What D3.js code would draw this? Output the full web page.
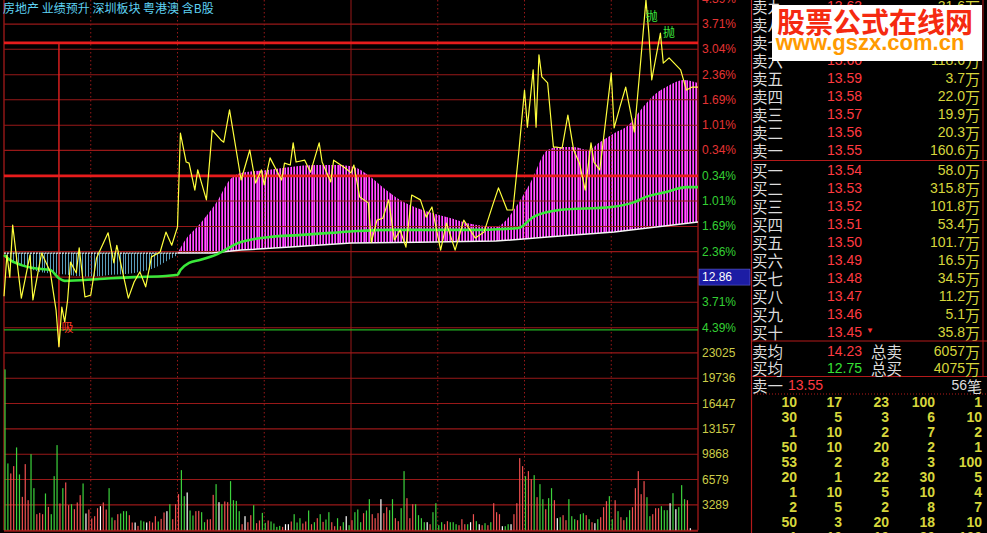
<!DOCTYPE html>
<html><head><meta charset="utf-8">
<script src="https://cdn.jsdelivr.net/npm/d3@7/dist/d3.min.js"></script>
<style>html,body{margin:0;padding:0;background:#000;overflow:hidden}svg{display:block}</style>
</head><body>
<svg id="chart" width="987" height="533"></svg>
<script>
// ================= DATA =================
const titleTags = ["房地产","业绩预升","深圳板块","粤港澳","含B股"];
const pctUpTicks = ["4.39%","3.71%","3.04%","2.36%","1.69%","1.01%","0.34%"];
const pctDownTicks = ["0.34%","1.01%","1.69%","2.36%","3.04%","3.71%","4.39%"];
const volTicks = [23025,19736,16447,13157,9868,6579,3289];
const cursorPrice = "12.86";
const cursorPct = -3.04;
const timeGridMin = [30,60,90,120,150,180,210];
const levelPct = [3.21,-0.34];
const greenLevelPct = -4.45;
const markMin = 19, markFrom = 3.21, markTo = -4.90;

// price (yellow) - minute index and % change
const priceMin = [0,1,2,3,6,9,10,13,16,18,19,20,21,22,23,25,26,28,30,32,36,38,39,43,45,47,49,51,54,56,58,60,61,63,64,66,67,70,72,75,76,78,82,85,87,89,90,92,96,97,99,100,101,104,106,109,110,113,114,118,120,121,123,126,127,129,131,133,135,137,139,141,144,146,148,151,153,156,159,163,166,167,169,171,174,176,178,180,181,183,184,185,186,188,190,191,193,195,197,199,201,203,204,206,207,210,211,213,215,218,220,222,223,224,227,228,230,234,236,238,240];
const pricePct = [-3.55,-2.45,-3.04,-1.65,-3.60,-2.45,-3.65,-2.40,-2.90,-3.92,-4.90,-3.84,-4.24,-3.65,-2.64,-2.93,-2.26,-3.57,-3.52,-2.53,-1.86,-2.66,-2.19,-3.60,-3.17,-2.90,-3.30,-2.50,-2.37,-1.84,-2.19,-1.70,0.80,0.03,0.00,-0.72,-0.18,-0.98,0.88,0.62,0.56,1.42,-0.45,0.35,-0.53,-0.18,-0.58,0.14,-0.45,0.00,-0.05,0.54,0.03,0.08,-0.24,0.54,0.03,-0.50,0.08,-0.13,-0.26,-0.05,-0.90,-1.06,-2.11,-1.52,-1.47,-0.98,-2.05,-1.79,-2.24,-0.85,-0.98,-1.44,-1.17,-2.32,-1.60,-2.32,-1.52,-2.00,-1.84,-1.60,-1.12,-0.66,-1.25,-1.25,0.27,1.95,0.96,2.49,0.96,2.89,2.30,2.14,0.43,0.43,0.40,1.28,0.35,0.00,-0.72,0.54,0.03,-0.18,0.43,2.40,0.94,1.50,2.03,0.83,2.56,4.35,3.47,2.22,3.47,2.67,2.81,2.49,1.95,2.03,2.03];

// average price (green)
const avgMin = [0,2,6,10,16,19,21,33,45,56,60,61,64,68,74,81,92,102,113,122,133,148,165,172,178,183,192,210,218,222,229,236,240];
const avgPct = [-2.45,-2.58,-2.72,-2.80,-2.85,-3.07,-3.14,-3.09,-3.04,-3.01,-2.98,-2.85,-2.66,-2.58,-2.42,-2.13,-1.97,-1.92,-1.86,-1.81,-1.78,-1.78,-1.78,-1.76,-1.73,-1.44,-1.25,-1.17,-1.04,-0.90,-0.77,-0.64,-0.64];

// indicator baseline (white)
const baseMin = [0,60,72,82,99,120,143,170,188,211,240];
const basePct = [-2.40,-2.40,-2.40,-2.32,-2.24,-2.13,-2.11,-2.08,-1.97,-1.84,-1.57];
// indicator lower band (cyan) below baseline in the morning
const cyanMin = [0,1,6,12,22,29,37,45,52,57,60];
const cyanPct = [-2.40,-2.50,-2.72,-2.90,-2.98,-3.04,-2.98,-2.93,-2.80,-2.58,-2.45];
// indicator upper band (magenta)
const magMin = [60,62,68,74,78,82,91,99,108,115,121,126,131,137,143,148,154,160,166,170,173,177,182,188,192,197,202,206,211,216,221,224,229,235,240];
const magPct = [-2.40,-2.13,-1.60,-0.98,-0.45,-0.26,-0.18,-0.10,-0.05,-0.05,-0.10,-0.32,-0.64,-0.98,-1.20,-1.33,-1.46,-1.60,-1.68,-1.71,-1.57,-1.17,-0.53,0.35,0.43,0.43,0.35,0.56,0.80,1.02,1.50,1.76,2.03,2.22,2.14];

// signals
const sigText = ["吸","抛","抛"];
const sigMin = [22,224,230];
const sigPct = [-4.37,3.95,3.50];
const sigColor = ["#ff3a2a","#3ee83e","#3ee83e"];

// volume per minute
const volVals = [20890,8670,7370,8320,10750,7240,4330,8580,3900,9880,
5460,2080,2250,2080,4770,3030,2080,7020,11050,3470,
5460,6200,3250,3380,2730,3600,4550,6070,2170,2690,
1520,1820,2860,3120,3600,2690,5460,1650,1300,2080,
2170,2470,2470,1950,1000,1000,560,1260,1130,1000,
1170,1000,1820,1130,1470,2300,2470,3380,1430,3380,
4680,7800,4420,4900,2560,1910,2470,2510,2340,1040,
1390,1430,4590,5980,3640,3380,3730,3640,6370,3900,
3810,2470,780,1820,1040,1950,3250,910,1260,2250,
950,1260,1130,870,430,560,430,780,780,1130,
2080,1000,1560,870,1130,2560,780,1040,1560,2080,
1080,1390,2340,1040,520,1560,520,1040,1820,
650,1300,2340,2690,1040,2210,2560,4030,2080,1560,
2210,4030,2210,2990,2600,4030,1560,1170,2860,7670,
4160,1560,3380,3380,1950,1560,1040,1040,780,2340,
3510,650,1040,780,1170,1040,1040,780,650,1430,
780,780,1040,2080,1170,780,650,910,650,1040,
3510,2340,2080,520,520,780,780,2080,3510,9360,
8320,7020,7670,6630,7150,4290,5980,4030,2730,4160,
5460,3900,1560,1690,1950,1300,4030,1820,1430,1300,
2080,2210,1950,1430,1040,910,1430,1690,2990,3770,
4420,1430,3900,2470,1690,1300,1690,2600,2990,5460,
7670,4680,6370,4290,1820,2080,2860,2860,3120,2600,
2600,3510,4810,2730,2990,5850,4030,3900,260];
const volDir = ("ggrrggrrrg"+"grrrgrgggr"+"grrgrrrgwr"+"rrrwrrggrr"+"gggrrwrggw"+"rrrgrrwgrr"+"rggwggrrgg"+"rrrgwgrrgg"+"ggrwrrgrrg"+"grggggrwwr"+"gggrrgrgrg"+"rggrrgrgw"+
 "grgggrggrr"+"rwrrggrrgg"+"rrrggggwrg"+"gggrrgggrr"+"rgwrgwrgrg"+"rrrwggwrrr"+"rgrrgrggrg"+"grwgrrgggr"+"ggrgrwgrrr"+"ggrgrrggrr"+"rrrggrrrgg"+"gwgwgggrw").split("");

// order book
const sellNames = ["卖九","卖八","卖七","卖六","卖五","卖四","卖三","卖二","卖一"];
const sellPrices = ["13.63","13.62","13.61","13.60","13.59","13.58","13.57","13.56","13.55"];
const sellVols = ["31.6","42.3","25.0","118.6","3.7","22.0","19.9","20.3","160.6"];
const buyNames = ["买一","买二","买三","买四","买五","买六","买七","买八","买九","买十"];
const buyPrices = ["13.54","13.53","13.52","13.51","13.50","13.49","13.48","13.47","13.46","13.45"];
const buyVols = ["58.0","315.8","101.8","53.4","101.7","16.5","34.5","11.2","5.1","35.8"];
const avgRows = [["卖均","14.23","总卖","6057"],["买均","12.75","总买","4075"]];
const tickRow = ["卖一","13.55","56笔"];
const tradeRows = [[10,17,23,100,1],[30,5,3,6,10],[1,10,2,7,2],[50,10,20,2,1],[53,2,8,3,100],[20,1,22,30,5],[1,10,5,10,4],[2,5,2,8,7],[50,3,20,18,10],[1,10,10,20,100]];
const watermark = ["股票公式在线网","www.gszx.com.cn"];

// ================= DRAW =================
const W = 987, H = 533;
const svg = d3.select("#chart");
svg.append("rect").attr("width", W).attr("height", H).attr("fill", "#000");

const x = d3.scaleLinear().domain([0, 240]).range([4, 698]);
const y = d3.scaleLinear().domain([4.3875, -4.3875]).range([-1.3, 327.6]);
const yv = d3.scaleLinear().domain([0, 23025]).range([530.2, 352.9]);

const GRID = "#981818", BRIGHT = "#e81c1c";
const numFont = "'Liberation Sans', Arial, sans-serif";
const cjkFont = "'Noto Sans CJK SC', sans-serif";

const WM = { x: 772, y: 5, w: 210, h: 56 };
const cursorBox = { y0: y(cursorPct) - 8, y1: y(cursorPct) + 8 };

const zip = (a, b) => a.map((m, i) => [m, b[i]]);
const basePts = zip(baseMin, basePct);
const lineLin = d3.line().x(d => x(d[0])).y(d => y(d[1]));
const lineSm = d3.line().x(d => x(d[0])).y(d => y(d[1])).curve(d3.curveMonotoneX);
const minutes = d3.range(0, 241);

const defs = svg.append("defs");
// cyan band clip
const cyanPts = zip(cyanMin, cyanPct);
const baseMorning = basePts.filter(d => d[0] <= 60);
defs.append("clipPath").attr("id", "cyanClip").append("path")
  .attr("d", lineLin(baseMorning) + lineSm(cyanPts.slice().reverse()).replace(/^M/, "L") + "Z");
// magenta band clip
const magPts = zip(magMin, magPct);
const baseAfter = basePts.filter(d => d[0] >= 60).reverse();
defs.append("clipPath").attr("id", "magClip").append("path")
  .attr("d", lineSm(magPts) + lineLin(baseAfter).replace(/^M/, "L") + "Z");

// cyan stripes (one per minute)
svg.append("g").attr("clip-path", "url(#cyanClip)").attr("shape-rendering", "crispEdges")
  .selectAll("rect").data(minutes.filter(m => m <= 61)).join("rect")
  .attr("x", m => Math.round(x(m))).attr("width", 1).attr("y", 240).attr("height", 50)
  .attr("fill", "#5a9cba");
// magenta stripes (one purple + one pink line per minute)
const magG = svg.append("g").attr("clip-path", "url(#magClip)").attr("shape-rendering", "crispEdges");
magG.selectAll("rect.a").data(minutes.filter(m => m >= 59)).join("rect").attr("class", "a")
  .attr("x", m => Math.round(x(m))).attr("width", 1).attr("y", 60).attr("height", 200)
  .attr("fill", "#c40cc8");
magG.selectAll("rect.b").data(minutes.filter(m => m >= 59)).join("rect").attr("class", "b")
  .attr("x", m => Math.round(x(m)) + 1).attr("width", 1).attr("y", 60).attr("height", 200)
  .attr("fill", "#f46cf0");

// horizontal grid (price)
const pctTickVals = pctUpTicks.map(t => parseFloat(t)).concat(pctDownTicks.map(t => -parseFloat(t)));
svg.append("g").selectAll("line").data(pctTickVals).join("line")
  .attr("x1", x(0)).attr("x2", x(240)).attr("y1", d => y(d)).attr("y2", d => y(d))
  .attr("stroke", GRID).attr("stroke-width", 1.1);
// horizontal grid (volume)
svg.append("g").selectAll("line").data(volTicks).join("line")
  .attr("x1", x(0)).attr("x2", x(240)).attr("y1", d => yv(d)).attr("y2", d => yv(d))
  .attr("stroke", GRID).attr("stroke-width", 1.1);
svg.append("line").attr("x1", x(0)).attr("x2", x(240)).attr("y1", yv(0) + 0.5).attr("y2", yv(0) + 0.5)
  .attr("stroke", GRID).attr("stroke-width", 2);

// vertical grid
svg.append("g").selectAll("line").data(timeGridMin).join("line")
  .attr("x1", d => x(d)).attr("x2", d => x(d)).attr("y1", 0).attr("y2", yv(0))
  .attr("stroke", GRID).attr("stroke-width", 1)
  .attr("stroke-dasharray", d => d === 120 ? null : "1.5,2.5");
svg.append("line").attr("x1", x(0)).attr("x2", x(0)).attr("y1", 0).attr("y2", yv(0)).attr("stroke", GRID).attr("stroke-width", 1.4);
svg.append("line").attr("x1", x(240)).attr("x2", x(240)).attr("y1", 0).attr("y2", yv(0)).attr("stroke", GRID).attr("stroke-width", 1.4);

// level lines
svg.append("g").selectAll("line").data(levelPct).join("line")
  .attr("x1", x(0)).attr("x2", x(240)).attr("y1", d => y(d)).attr("y2", d => y(d))
  .attr("stroke", BRIGHT).attr("stroke-width", 2.8);
svg.append("line").attr("x1", x(0)).attr("x2", x(240)).attr("y1", y(greenLevelPct)).attr("y2", y(greenLevelPct))
  .attr("stroke", "#22b422").attr("stroke-width", 1.3);
svg.append("line").attr("x1", x(markMin)).attr("x2", x(markMin)).attr("y1", y(markFrom)).attr("y2", y(markTo))
  .attr("stroke", "#e42020").attr("stroke-width", 1.4);

// baseline white
svg.append("path").attr("d", lineLin(baseMorning)).attr("fill", "none")
  .attr("stroke", "#f0f0f0").attr("stroke-width", 1.3).attr("stroke-dasharray", "2,0.9");
svg.append("path").attr("d", lineLin(basePts.filter(d => d[0] >= 60)))
  .attr("fill", "none").attr("stroke", "#f4f4f4").attr("stroke-width", 1.5);

// average line green
svg.append("path").attr("d", lineSm(zip(avgMin, avgPct))).attr("fill", "none")
  .attr("stroke", "#3ae83a").attr("stroke-width", 2.6);

// price line yellow
svg.append("path").attr("d", lineLin(zip(priceMin, pricePct))).attr("fill", "none")
  .attr("stroke", "#ffff3c").attr("stroke-width", 1.2).attr("stroke-linejoin", "round");

// signals
svg.append("g").selectAll("text").data(sigText).join("text")
  .attr("x", (d, i) => x(sigMin[i])).attr("y", (d, i) => y(sigPct[i]))
  .attr("text-anchor", "middle").attr("dominant-baseline", "central")
  .attr("font-family", cjkFont).attr("font-size", 12)
  .attr("fill", (d, i) => sigColor[i]).text(d => d);

// volume bars
const colorMap = { r: "#f05050", g: "#3cd23c", w: "#ffffff" };
svg.append("g").selectAll("rect").data(volVals).join("rect")
  .attr("x", (d, i) => x(i) + 0.4).attr("width", 1.2)
  .attr("y", d => yv(d)).attr("height", d => yv(0) - yv(d))
  .attr("fill", (d, i) => colorMap[volDir[i]]);

// title
svg.append("text").attr("x", 3).attr("y", 7.5).attr("dominant-baseline", "central")
  .attr("font-family", cjkFont).attr("font-size", 12).attr("fill", "#5ed2f2")
  .text(titleTags.join(" "));

// right axis labels
const axisG = svg.append("g").attr("font-family", numFont).attr("font-size", 12).attr("dominant-baseline", "central");
axisG.selectAll("text.up").data(pctUpTicks).join("text").attr("class", "up")
  .attr("x", 702).attr("y", d => y(parseFloat(d))).attr("fill", "#e43434").text(d => d);
axisG.selectAll("text.dn").data(pctDownTicks.filter(d => {
    const yy = y(-parseFloat(d)); return yy < cursorBox.y0 || yy > cursorBox.y1; }))
  .join("text").attr("class", "dn")
  .attr("x", 702).attr("y", d => y(-parseFloat(d))).attr("fill", "#34d034").text(d => d);
axisG.selectAll("text.vl").data(volTicks).join("text").attr("class", "vl")
  .attr("x", 702).attr("y", d => yv(d)).attr("fill", "#cccc48").text(d => d);
// cursor price box
const cy = y(cursorPct);
svg.append("rect").attr("x", 699).attr("y", cy - 8).attr("width", 51).attr("height", 16)
  .attr("fill", "#1c1ca4").attr("stroke", "#6060d0").attr("stroke-width", 0.6);
svg.append("text").attr("x", 702).attr("y", cy).attr("dominant-baseline", "central")
  .attr("font-family", numFont).attr("font-size", 12).attr("fill", "#ffffff").text(cursorPrice);

// ===== right panel =====
const P = svg.append("g");
const PANEL_LINE = "#b41a1a";
P.append("line").attr("x1", 751.5).attr("x2", 751.5).attr("y1", 0).attr("y2", H).attr("stroke", PANEL_LINE).attr("stroke-width", 1.2);
P.append("line").attr("x1", 983).attr("x2", 983).attr("y1", 0).attr("y2", 376).attr("stroke", PANEL_LINE).attr("stroke-width", 1);

const sellY = d3.scaleLinear().domain([0, sellNames.length - 1]).range([5.8, 150.3]);
const buyY = d3.scaleLinear().domain([0, buyNames.length - 1]).range([169.5, 332.4]);
const LABEL = "#dcdcdc", RED = "#ff3a40", YEL = "#d6d63c", GRN = "#36e036";
const hiddenRow = yy => (yy - 7 >= WM.y) && (yy + 7 <= WM.y + WM.h);

function bookRows(names, prices, vols, ys) {
  const idx = names.map((d, i) => i);
  const g = P.append("g").attr("dominant-baseline", "central");
  g.selectAll("text.n").data(idx).join("text").attr("class", "n")
    .attr("x", 752).attr("y", i => ys(i)).attr("font-family", cjkFont).attr("font-size", 15.5)
    .attr("fill", LABEL).text(i => names[i]);
  const vis = idx.filter(i => !hiddenRow(ys(i)));
  g.selectAll("text.p").data(vis).join("text").attr("class", "p")
    .attr("x", 862).attr("y", i => ys(i)).attr("text-anchor", "end")
    .attr("font-family", numFont).attr("font-size", 14).attr("fill", RED).text(i => prices[i]);
  const v = g.selectAll("text.v").data(vis).join("text").attr("class", "v")
    .attr("x", 980).attr("y", i => ys(i)).attr("text-anchor", "end").attr("fill", YEL);
  v.append("tspan").attr("font-family", numFont).attr("font-size", 14).text(i => vols[i]);
  v.append("tspan").attr("font-family", cjkFont).attr("font-size", 15).text("万");
}
bookRows(sellNames, sellPrices, sellVols, sellY);
bookRows(buyNames, buyPrices, buyVols, buyY);
P.append("text").attr("x", 866).attr("y", buyY(buyNames.length - 1) - 2).attr("dominant-baseline", "central")
  .attr("font-size", 8).attr("fill", "#ff3030").text("▼");

P.append("line").attr("x1", 751).attr("x2", W).attr("y1", 160.5).attr("y2", 160.5).attr("stroke", PANEL_LINE);
P.append("line").attr("x1", 751).attr("x2", W).attr("y1", 341).attr("y2", 341).attr("stroke", PANEL_LINE);
P.append("line").attr("x1", 751).attr("x2", W).attr("y1", 376.5).attr("y2", 376.5).attr("stroke", PANEL_LINE);
P.append("line").attr("x1", 751).attr("x2", W).attr("y1", 394).attr("y2", 394).attr("stroke", PANEL_LINE).attr("stroke-dasharray", "1,2");

const avgY = d3.scaleLinear().domain([0, 1]).range([351, 367.5]);
avgRows.forEach((r, i) => {
  const g = P.append("g").attr("dominant-baseline", "central");
  g.append("text").attr("x", 752).attr("y", avgY(i)).attr("font-family", cjkFont).attr("font-size", 15.5).attr("fill", LABEL).text(r[0]);
  g.append("text").attr("x", 862).attr("y", avgY(i)).attr("text-anchor", "end").attr("font-family", numFont).attr("font-size", 14)
    .attr("fill", i === 0 ? RED : GRN).text(r[1]);
  g.append("text").attr("x", 871).attr("y", avgY(i)).attr("font-family", cjkFont).attr("font-size", 15.5).attr("fill", LABEL).text(r[2]);
  const t = g.append("text").attr("x", 980).attr("y", avgY(i)).attr("text-anchor", "end").attr("fill", YEL);
  t.append("tspan").attr("font-family", numFont).attr("font-size", 14).text(r[3]);
  t.append("tspan").attr("font-family", cjkFont).attr("font-size", 15).text("万");
});
{
  const g = P.append("g").attr("dominant-baseline", "central");
  g.append("text").attr("x", 752).attr("y", 385).attr("font-family", cjkFont).attr("font-size", 15.5).attr("fill", LABEL).text(tickRow[0]);
  g.append("text").attr("x", 823).attr("y", 385).attr("text-anchor", "end").attr("font-family", numFont).attr("font-size", 14).attr("fill", RED).text(tickRow[1]);
  const t = g.append("text").attr("x", 982).attr("y", 385).attr("text-anchor", "end").attr("fill", LABEL);
  t.append("tspan").attr("font-family", numFont).attr("font-size", 14).text(tickRow[2].replace("笔", ""));
  t.append("tspan").attr("font-family", cjkFont).attr("font-size", 15).text("笔");
}
const tradeY = d3.scaleLinear().domain([0, tradeRows.length - 1]).range([402, 537]);
const tradeColX = [797, 842, 889, 935, 982];
tradeRows.forEach((row, r) => {
  P.append("g").selectAll("text").data(row).join("text")
    .attr("x", (d, c) => tradeColX[c]).attr("y", tradeY(r)).attr("text-anchor", "end")
    .attr("dominant-baseline", "central").attr("font-family", numFont).attr("font-size", 14)
    .attr("font-weight", "bold").attr("fill", YEL).text(d => d);
});

// watermark box
svg.append("rect").attr("x", WM.x).attr("y", WM.y).attr("width", WM.w).attr("height", WM.h).attr("fill", "#ffffff");
svg.append("text").attr("x", 875).attr("y", 20.5).attr("text-anchor", "middle").attr("dominant-baseline", "central")
  .attr("font-family", cjkFont).attr("font-weight", "bold").attr("font-size", 28).attr("fill", "#f52a10").text(watermark[0]);
svg.append("text").attr("x", 870).attr("y", 50).attr("text-anchor", "middle")
  .attr("font-family", numFont).attr("font-weight", "bold").attr("font-size", 22).attr("fill", "#ff9a00").text(watermark[1]);
</script>
</body></html>
